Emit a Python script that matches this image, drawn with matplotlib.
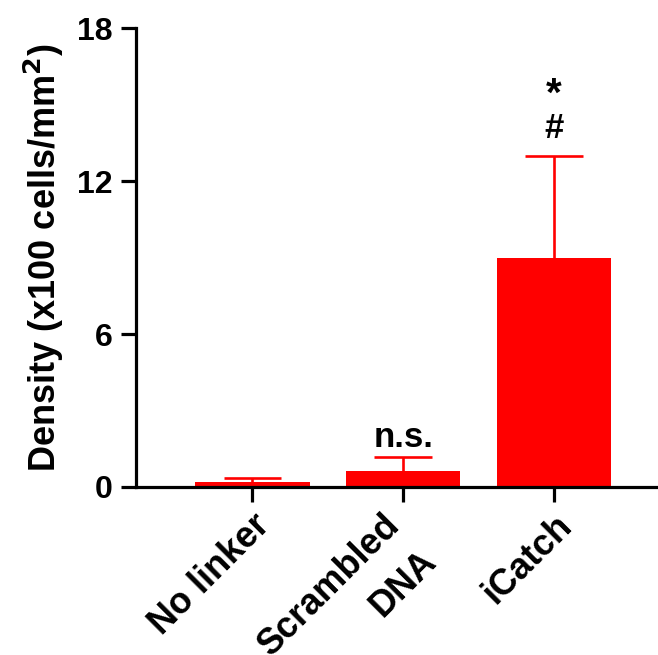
import numpy as np
import matplotlib
matplotlib.use("Agg")
import matplotlib.pyplot as plt
from matplotlib.transforms import ScaledTranslation

plt.rcParams['font.family'] = ['Liberation Sans', 'DejaVu Sans']
plt.rcParams['font.weight'] = 'bold'

# data
groups = ['No linker', 'Scrambled\nDNA', 'iCatch']
density = [0.2, 0.63, 9.0]
err_up = [0.15, 0.55, 4.0]
marks = ['', 'n.s.', '#']
mark_y = [0, 1.95, 14.05]
stars = ['', '', '*']
star_y = [0, 0, 15.4]

x = np.arange(len(groups))
red = '#ff0000'

fig = plt.figure(figsize=(6.58, 6.55), dpi=100)
ax = fig.add_axes([0.207, 0.2565, 0.793, 0.7005])

ax.bar(x, density, width=0.76, color=red, zorder=2)
# upper error bars only
tops = np.array(density) + np.array(err_up)
ax.vlines(x, density, tops, color=red, linewidth=1.9, zorder=1)
ax.hlines(tops, x - 0.19, x + 0.19, color=red, linewidth=1.9, zorder=1)

for i in range(len(x)):
    if marks[i]:
        ax.text(x[i], mark_y[i], marks[i], ha='center', va='center',
                fontsize=25, fontweight='bold')
    if stars[i]:
        ax.text(x[i], star_y[i], stars[i], ha='center', va='center',
                fontsize=29, fontweight='bold')

ax.set_xlim(-0.77, 2.69)
ax.set_ylim(0, 18)
ax.set_yticks([0, 6, 12, 18])
ax.set_xticks(x)
ax.set_xticklabels(groups, rotation=45, ha='right', va='top', rotation_mode='anchor',
                   multialignment='right', linespacing=1.6, fontsize=26)
ax.set_ylabel('Density (x100 cells/mm$^\\mathbf{2}$)', fontsize=26, fontweight='bold', labelpad=8)

for s in ['top', 'right']:
    ax.spines[s].set_visible(False)
for s in ['left', 'bottom']:
    ax.spines[s].set_linewidth(2.3)
ax.tick_params(axis='both', width=2.3, length=11)
ax.tick_params(axis='y', labelsize=23, pad=6)
ax.tick_params(axis='x', pad=4)
for lab in ax.get_xticklabels() + ax.get_yticklabels():
    lab.set_fontweight('bold')

# the two-line label sits a little left of its tick in the reference
lab = ax.get_xticklabels()[1]
lab.set_transform(lab.get_transform() + ScaledTranslation(-0.21, 0.0, fig.dpi_scale_trans))

fig.savefig('out.png', dpi=100)
